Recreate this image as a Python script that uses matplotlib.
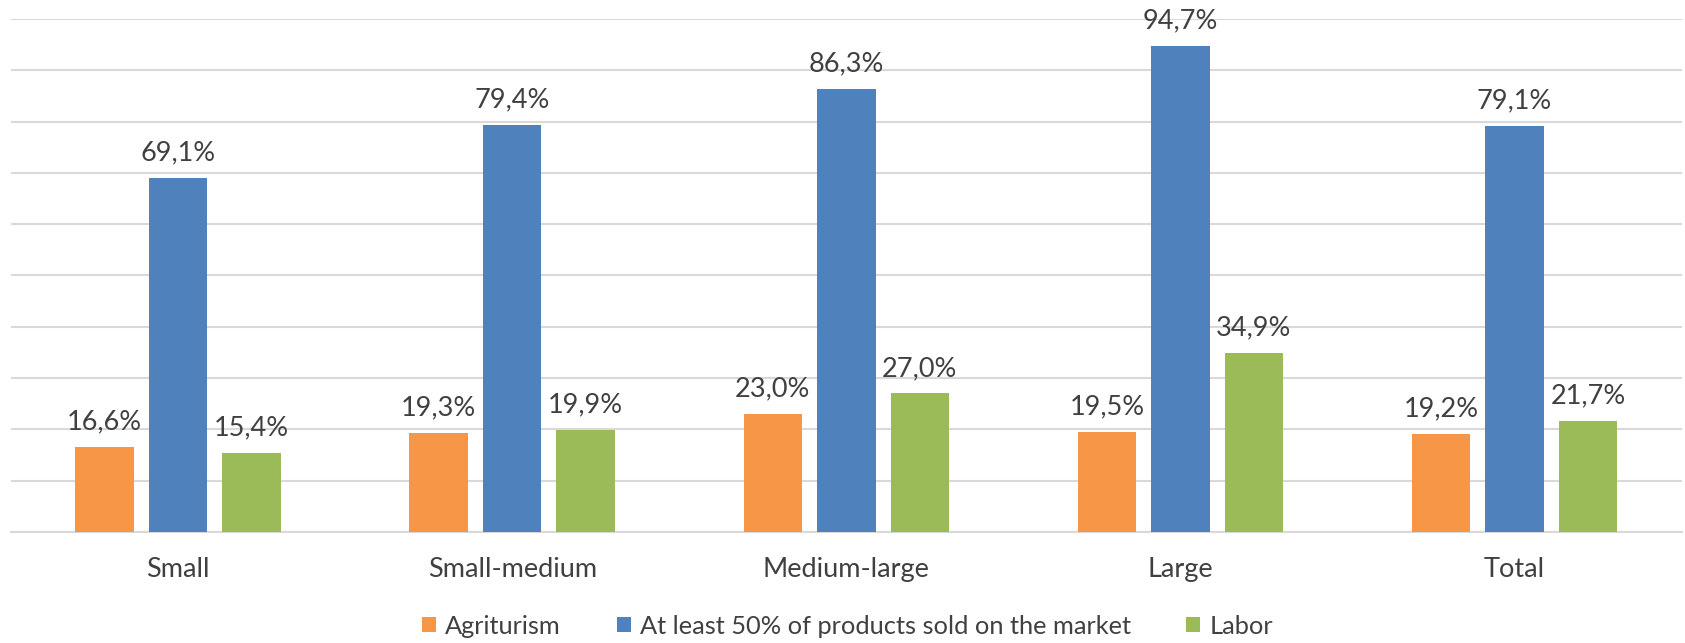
import numpy as np
import matplotlib.pyplot as plt

# ------------------------------------------------------------------
# Data
# ------------------------------------------------------------------
categories = ["Small", "Small-medium", "Medium-large", "Large", "Total"]
series_names = ["Agriturism",
                "At least 50% of products sold on the market",
                "Labor"]
agriturism = [16.6, 19.3, 23.0, 19.5, 19.2]
market = [69.1, 79.4, 86.3, 94.7, 79.1]
labor = [15.4, 19.9, 27.0, 34.9, 21.7]

colors = ["#F79646", "#4F81BD", "#9BBB59"]
text_color = "#404040"

plt.rcParams['font.family'] = ['Lato', 'DejaVu Sans']

fig = plt.figure(figsize=(16.85, 6.43), dpi=100)
ax = fig.add_axes([0.0065, 0.1726, 0.9915, 0.7979])

x = np.arange(len(categories))
width = 0.175
pitch = 0.22

for i, (vals, name, col) in enumerate(zip([agriturism, market, labor],
                                          series_names, colors)):
    pos = x + (i - 1) * pitch
    bars = ax.bar(pos, vals, width=width, color=col, label=name, zorder=3)
    for b, v in zip(bars, vals):
        ax.annotate(f"{v:.1f}%".replace(".", ","),
                    (b.get_x() + b.get_width() / 2, v),
                    xytext=(0, 9), textcoords="offset points",
                    ha="center", va="bottom",
                    fontsize=19.5, color=text_color)

ax.set_ylim(0, 100)
ax.set_xlim(-0.5, len(categories) - 0.5)
ax.set_yticks(np.arange(0, 101, 10))
ax.yaxis.grid(True, color="#D9D9D9", linewidth=1.5, zorder=0)
ax.tick_params(axis="y", left=False, labelleft=False)
ax.tick_params(axis="x", length=0, pad=18, labelsize=19.5,
               labelcolor=text_color)
ax.set_xticks(x)
ax.set_xticklabels(categories)

for s in ["top", "right", "left"]:
    ax.spines[s].set_visible(False)
ax.spines["bottom"].set_color("#D9D9D9")
ax.spines["bottom"].set_linewidth(1.5)

leg = fig.legend(loc="center", bbox_to_anchor=(0.503, 0.026), ncol=3,
                 frameon=False, fontsize=18.3, handlelength=0.55,
                 handleheight=0.55, handletextpad=0.35, columnspacing=2.2)
for t in leg.get_texts():
    t.set_color(text_color)

fig.savefig("out.png", dpi=100)
